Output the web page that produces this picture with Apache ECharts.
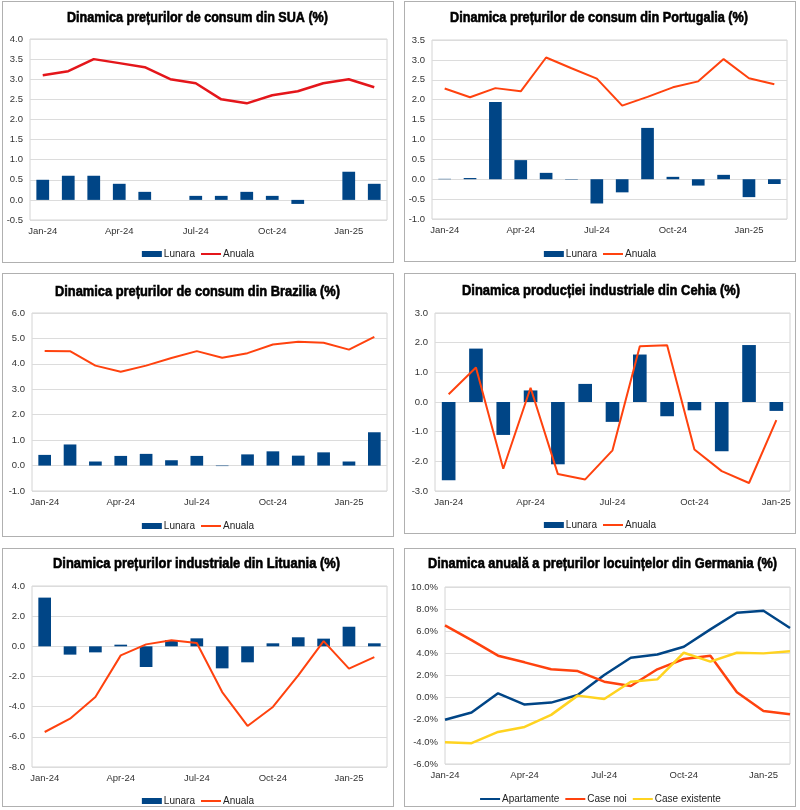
<!DOCTYPE html>
<html><head><meta charset="utf-8">
<script src="https://cdn.jsdelivr.net/npm/echarts@6/dist/echarts.min.js"></script>
<style>
html,body{margin:0;padding:0;background:#fff;width:800px;height:810px;overflow:hidden}
.p{position:absolute;border:1px solid #b0b0b0;box-sizing:border-box;background:#fff}
</style></head><body>
<div id="c1" class="p"></div><div id="c2" class="p"></div>
<div id="c3" class="p"></div><div id="c4" class="p"></div>
<div id="c5" class="p"></div><div id="c6" class="p"></div>
<script>
const months14 = ['Jan-24','Feb-24','Mar-24','Apr-24','May-24','Jun-24','Jul-24','Aug-24','Sep-24','Oct-24','Nov-24','Dec-24','Jan-25','Feb-25'];
const months13 = months14.slice(0, 13);

const usaLunara = [0.5, 0.6, 0.6, 0.4, 0.2, 0.0, 0.1, 0.1, 0.2, 0.1, -0.1, 0.0, 0.7, 0.4];
const usaAnuala = [3.1, 3.2, 3.5, 3.4, 3.3, 3.0, 2.9, 2.5, 2.4, 2.6, 2.7, 2.9, 3.0, 2.8];

const ptLunara = [0.01, 0.03, 1.94, 0.48, 0.16, -0.01, -0.61, -0.33, 1.29, 0.06, -0.16, 0.11, -0.45, -0.12];
const ptAnuala = [2.28, 2.06, 2.29, 2.21, 3.06, 2.79, 2.53, 1.85, 2.07, 2.31, 2.46, 3.02, 2.54, 2.39];

const brLunara = [0.42, 0.83, 0.16, 0.38, 0.46, 0.21, 0.38, -0.02, 0.44, 0.56, 0.39, 0.52, 0.16, 1.31];
const brAnuala = [4.51, 4.50, 3.93, 3.69, 3.93, 4.23, 4.50, 4.24, 4.42, 4.76, 4.87, 4.83, 4.56, 5.06];

const czLunara = [-2.64, 1.80, -1.11, 0.39, -2.10, 0.61, -0.67, 1.60, -0.48, -0.28, -1.66, 1.92, -0.30];
const czAnuala = [0.26, 1.16, -2.25, 0.48, -2.43, -2.61, -1.63, 1.88, 1.91, -1.60, -2.33, -2.73, -0.61];

const ltLunara = [3.23, -0.55, -0.40, 0.11, -1.37, 0.42, 0.53, -1.46, -1.06, 0.20, 0.60, 0.51, 1.30, 0.20];
const ltAnuala = [-5.68, -4.80, -3.36, -0.60, 0.13, 0.40, 0.22, -3.03, -5.28, -4.02, -1.92, 0.35, -1.48, -0.71];

const deApartamente = [-2.0, -1.35, 0.39, -0.63, -0.45, 0.24, 2.05, 3.6, 3.9, 4.6, 6.17, 7.67, 7.85, 6.3];
const deCaseNoi = [6.53, 5.2, 3.79, 3.19, 2.56, 2.4, 1.44, 1.05, 2.56, 3.49, 3.79, 0.48, -1.2, -1.5];
const deCaseExistente = [-4.03, -4.12, -3.1, -2.65, -1.56, 0.18, -0.12, 1.44, 1.65, 4.06, 3.25, 4.06, 4.0, 4.2];

const BLUE = '#004586', ORANGE = '#ff420e', YELLOW = '#ffd320', RED = '#e4161b';
const TITLE_FONT_FAMILY = '"Liberation Sans",Arial,sans-serif';
const TITLE_SIZE = 15;
const FONT = '"Liberation Sans",Arial,sans-serif';

const measureCtx = document.createElement('canvas').getContext('2d');
function textWidth(text) {
  measureCtx.font = 'bold ' + TITLE_SIZE + 'px ' + TITLE_FONT_FAMILY;
  return measureCtx.measureText(text).width;
}

function panel(id, box, grid, title, legendY, yCfg, cats, series, opts) {
  opts = opts || {};
  const el = document.getElementById(id);
  Object.assign(el.style, {left: box.x + 'px', top: box.y + 'px', width: box.w + 'px', height: box.h + 'px'});
  const ox = box.x + 1, oy = box.y + 1;
  const chart = echarts.init(el, null, {renderer: 'canvas'});
  const sx = title.w / textWidth(title.text);
  chart.setOption({
    animation: false,
    textStyle: {fontFamily: FONT},
    graphic: [{
      type: 'text', x: title.cx - ox, y: title.cy - oy, scaleX: sx, scaleY: 1,
      style: {
        text: title.text, fill: '#000', fontFamily: TITLE_FONT_FAMILY, fontWeight: 'bold',
        fontSize: TITLE_SIZE, align: 'center', verticalAlign: 'middle',
        stroke: '#000', lineWidth: 0.6
      }
    }],
    legend: {
      top: legendY - oy - 6, left: 'center', padding: 0,
      itemWidth: 20, itemHeight: 6, itemGap: 5,
      textStyle: {fontSize: 10, color: '#222', padding: [0, 0, 0, -3]},
      data: series.map(s => s.type === 'bar'
        ? {name: s.name, icon: 'rect'}
        : {name: s.name, itemStyle: {opacity: 0}})
    },
    grid: {
      left: grid.x1 - ox, top: grid.y1 - oy, width: grid.x2 - grid.x1, height: grid.y2 - grid.y1,
      show: true, borderColor: '#d4d4d4', borderWidth: 1, containLabel: false
    },
    xAxis: {
      type: 'category', data: cats, boundaryGap: opts.boundaryGap !== false,
      axisLine: {show: false}, axisTick: {show: false}, splitLine: {show: false},
      axisLabel: {interval: 2, fontSize: 9.5, color: '#333', margin: 6}
    },
    yAxis: {
      type: 'value', min: yCfg.min, max: yCfg.max, interval: yCfg.interval,
      axisLine: {show: false}, axisTick: {show: false},
      splitLine: {lineStyle: {color: '#dcdcdc', width: 1}},
      axisLabel: {fontSize: 9.5, color: '#333', margin: 7,
        formatter: v => v.toFixed(1) + (opts.pct ? '%' : '')}
    },
    series: series
  });
}

function bar(name, data) {
  return {name, type: 'bar', data, barWidth: '50%', itemStyle: {color: BLUE}};
}
function line(name, data, color, w) {
  return {name, type: 'line', data, symbol: 'none', showSymbol: false, smooth: false,
    lineStyle: {color, width: w || 2}, itemStyle: {color}};
}

panel('c1', {x: 2, y: 1, w: 392, h: 262}, {x1: 30, y1: 39, x2: 387, y2: 220},
  {text: 'Dinamica prețurilor de consum din SUA (%)', cx: 197.5, cy: 18, w: 261}, 255,
  {min: -0.5, max: 4.0, interval: 0.5}, months14,
  [bar('Lunara', usaLunara), line('Anuala', usaAnuala, RED, 2.5)]);

panel('c2', {x: 404, y: 1, w: 392, h: 261}, {x1: 432, y1: 40, x2: 787, y2: 219},
  {text: 'Dinamica prețurilor de consum din Portugalia (%)', cx: 599, cy: 18, w: 298}, 255,
  {min: -1.0, max: 3.5, interval: 0.5}, months14,
  [bar('Lunara', ptLunara), line('Anuala', ptAnuala, ORANGE, 2)]);

panel('c3', {x: 2, y: 273, w: 392, h: 264}, {x1: 32, y1: 313, x2: 387, y2: 491},
  {text: 'Dinamica prețurilor de consum din Brazilia (%)', cx: 197.5, cy: 292, w: 285}, 527,
  {min: -1.0, max: 6.0, interval: 1.0}, months14,
  [bar('Lunara', brLunara), line('Anuala', brAnuala, ORANGE, 2)]);

panel('c4', {x: 404, y: 273, w: 392, h: 261}, {x1: 435, y1: 313, x2: 790, y2: 491},
  {text: 'Dinamica producției industriale din Cehia (%)', cx: 601, cy: 291, w: 278}, 526,
  {min: -3.0, max: 3.0, interval: 1.0}, months13,
  [bar('Lunara', czLunara), line('Anuala', czAnuala, ORANGE, 2)]);

panel('c5', {x: 2, y: 548, w: 392, h: 259}, {x1: 32, y1: 586, x2: 387, y2: 767},
  {text: 'Dinamica prețurilor industriale din Lituania (%)', cx: 196.5, cy: 564, w: 287}, 802,
  {min: -8.0, max: 4.0, interval: 2.0}, months14,
  [bar('Lunara', ltLunara), line('Anuala', ltAnuala, ORANGE, 2)]);

panel('c6', {x: 404, y: 548, w: 392, h: 259}, {x1: 445, y1: 587, x2: 790, y2: 764},
  {text: 'Dinamica anuală a prețurilor locuințelor din Germania (%)', cx: 602.5, cy: 564, w: 349}, 800,
  {min: -6.0, max: 10.0, interval: 2.0}, months14,
  [line('Apartamente', deApartamente, BLUE, 2.5), line('Case noi', deCaseNoi, ORANGE, 2.5),
   line('Case existente', deCaseExistente, YELLOW, 2.5)],
  {boundaryGap: false, pct: true});
</script>
</body></html>
